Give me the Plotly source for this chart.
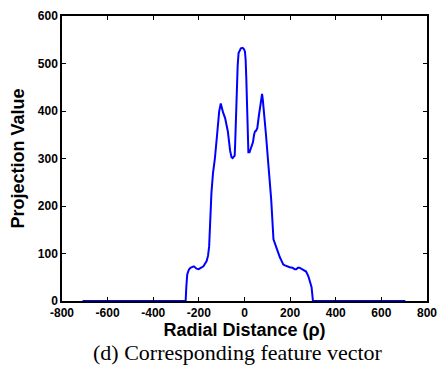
import plotly.graph_objects as go

# Radial distance (rho) and projection values
rho = [-710, -258, -255, -251, -244, -237, -222, -210, -201, -190, -180, -166, -160,
       -155, -152, -149, -145, -138, -130, -120, -111, -104, -100, -94, -85, -73, -63,
       -57, -52, -46, -43, -41, -40, -37, -34, -30, -26, -20, -16, -8, -2, 2, 5, 8, 12,
       15, 17, 22, 27, 32, 37, 42, 46, 50, 56, 63, 70, 77, 80, 84, 94, 105, 117, 127,
       134, 141, 148, 155, 163, 170, 177, 185, 198, 210, 220, 227, 234, 241, 250, 262,
       270, 280, 288, 294, 298, 300, 705]
proj = [0, 0, 30, 56, 66, 70, 73, 68, 67, 70, 73, 84, 95,
        115, 150, 190, 227, 270, 299, 351, 399, 416, 405, 397, 385, 357, 316,
        303, 301, 304, 306, 330, 351, 400, 453, 495, 522, 530, 532, 533, 530, 525, 508, 467, 385,
        340, 313, 313, 320, 326, 334, 350, 357, 358, 364, 390, 412, 436, 425, 406, 351, 285, 214, 130,
        120, 114, 100, 92, 84, 77, 75, 73, 71, 70, 67, 67, 70, 70, 67, 64,
        62, 52, 40, 29, 10, 0, 0]

x_ticks = [-800, -600, -400, -200, 0, 200, 400, 600, 800]
y_ticks = [0, 100, 200, 300, 400, 500, 600]

fig = go.Figure()
fig.add_trace(go.Scatter(x=rho, y=proj, mode="lines",
                         line=dict(color="#0000ff", width=2), showlegend=False))

axis_common = dict(showline=True, linecolor="black", linewidth=1.5, mirror="ticks",
                   ticks="inside", ticklen=4, tickcolor="black", showgrid=False,
                   zeroline=False,
                   tickfont=dict(family="Liberation Sans, Arial", size=12, color="black", weight="bold"))

fig.update_xaxes(range=[-800, 800], tickvals=x_ticks, ticktext=[str(v) for v in x_ticks],
                 title=dict(text="Radial Distance (ρ)", standoff=2,
                            font=dict(family="Liberation Sans, Arial", size=18, color="black", weight="bold")),
                 **axis_common)
fig.update_yaxes(range=[0, 600], tickvals=y_ticks, ticktext=[str(v) for v in y_ticks],
                 title=dict(text="Projection Value", standoff=9,
                            font=dict(family="Liberation Sans, Arial", size=18, color="black", weight="bold")),
                 **axis_common)

fig.add_annotation(text="(d) Corresponding feature vector", xref="paper", yref="paper",
                   x=0.481, y=-0.182, xanchor="center", yanchor="middle", showarrow=False,
                   font=dict(family="Liberation Serif, Times New Roman", size=22, color="black"))

fig.update_layout(width=446, height=372, margin=dict(l=62, r=10, t=9, b=71),
                  plot_bgcolor="white", paper_bgcolor="white")

fig.write_html("out.html")
